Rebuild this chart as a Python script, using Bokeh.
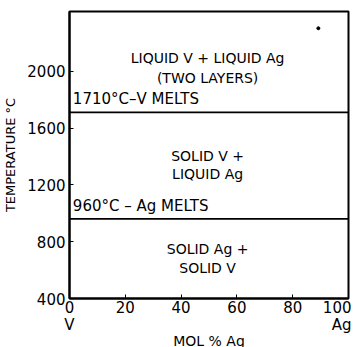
from bokeh.plotting import figure
from bokeh.models import Range1d, FixedTicker, ColumnDataSource, LinearAxis
from bokeh.core.properties import value
from bokeh.embed import file_html
from bokeh.resources import INLINE

# Data
melt_temps = [1710, 960]           # horizontal invariant lines (°C)
melt_labels = ["1710°C\u2013V MELTS", "960°C \u2013 Ag MELTS"]
x_ticks = [0, 20, 40, 60, 80, 100]
y_ticks = [400, 800, 1200, 1600, 2000]
end_ticks = [0, 100]
end_components = ["V", "Ag"]        # pure components at 0 and 100 mol % Ag
region_texts = ["LIQUID V + LIQUID Ag", "(TWO LAYERS)", "SOLID V +", "LIQUID Ag",
                "SOLID Ag +", "SOLID V"]

FONT = "DejaVu Sans"

p = figure(width=351, height=347, output_backend="svg", toolbar_location=None,
           x_range=Range1d(0, 100), y_range=Range1d(400, 2420),
           min_border_left=69, min_border_right=3, min_border_top=11, min_border_bottom=49)
p.frame_width = 279
p.frame_height = 287
p.grid.visible = False
p.outline_line_color = "black"
p.outline_line_width = 2

def style(ax):
    ax.axis_line_color = "black"
    ax.axis_line_width = 2
    ax.major_tick_in = 4
    ax.major_tick_out = 0
    ax.minor_tick_line_color = None
    ax.major_tick_line_color = "black"
    ax.major_label_text_font = FONT
    ax.major_label_text_font_size = "15px"
    ax.major_label_text_color = "black"
    ax.axis_label_text_font = FONT
    ax.axis_label_text_font_size = "14px"
    ax.axis_label_text_font_style = "normal"
    ax.axis_label_text_color = "black"

style(p.xaxis[0])
style(p.yaxis[0])
p.yaxis.axis_label_text_font_size = "13px"
p.xaxis.ticker = FixedTicker(ticks=x_ticks)
p.yaxis.ticker = FixedTicker(ticks=y_ticks)
p.yaxis.axis_label = "TEMPERATURE °C"
p.xaxis.major_label_standoff = 2
p.yaxis.major_label_standoff = 4
p.yaxis.axis_label_standoff = 6

# second bottom axis carrying the component names and the axis title
comp_axis = LinearAxis(ticker=FixedTicker(ticks=end_ticks),
                       major_label_overrides={t: n for t, n in zip(end_ticks, end_components)})
style(comp_axis)
comp_axis.axis_line_color = None
comp_axis.major_tick_line_color = None
comp_axis.major_tick_in = 0
comp_axis.major_label_standoff = 0
comp_axis.axis_label = "MOL % Ag"
comp_axis.axis_label_standoff = -4
p.add_layout(comp_axis, "below")

# invariant lines
for t in melt_temps:
    p.line([0, 100], [t, t], line_color="black", line_width=1.8)

# melt labels (left aligned above lines)
p.text(x=[1.2, 1.2], y=[t + 30 for t in melt_temps], text=melt_labels,
       text_font=value(FONT), text_font_size="15px", text_color="black",
       text_align="left", text_baseline="bottom")

# region labels
src = ColumnDataSource(dict(x=[49.5] * 6, y=[2091, 1951, 1403, 1277, 751, 618], t=region_texts))
p.text(x="x", y="y", text="t", source=src, text_font=value(FONT), text_font_size="14px",
       text_color="black", text_align="center", text_baseline="middle")

# small dot
p.scatter([89.2], [2302], size=3, color="black")

open("out.html", "w").write(file_html(p, INLINE))
